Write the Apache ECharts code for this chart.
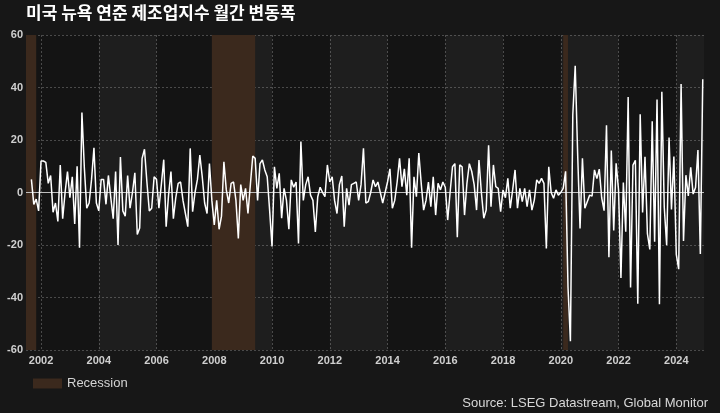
<!DOCTYPE html>
<html><head><meta charset="utf-8">
<script src="https://cdn.jsdelivr.net/npm/echarts@6/dist/echarts.min.js"></script>
<style>html,body{margin:0;padding:0;background:#171717;}#c{width:720px;height:413px;}</style>
</head><body><div id="c"></div>
<script>
// Monthly change of the Empire State (NY Fed) manufacturing index, first value = Aug 2001
const firstYear = 2001, firstMonth = 8;
const chg2001_2005 = [5,-4.5,-2.5,-7,12,12,11.5,3.5,6.5,-7.5,-4,-11,10.5,-10,0,8,-2,6,-12,10,-21,30.5,9.5,-6,-4,5,17,-4,-7,5,5,-4.5,6.5,-2,-10,8,-20,13.5,-7,-9,6.5,-6,0,7.5,-16,-13.5,13,16.5,4,-7,-6,6,5];
const chg2006_2010 = [-6,3,12.5,-13,-1,8,-10,-2,3.5,4,-3,-8,-13,16.8,-7.3,0,5,14.3,6,-4,-8,11,-3,-12.4,-3,-14,-9,11.7,1,-4,3.5,4,-3,-17.5,3,-3,1.6,-8,3,13.9,13,-3,11,12.4,8.6,6,-6.7,-20.6,9.8,1.6,7.3,-9.8,1.6,-3,-14,4.8,2,4,-19.4,19.4];
const chg2011_2015 = [-3,3,6,-1,-3,-15,-1.6,2,0,-1.6,10.5,4,6,-3,-8,3,6.3,-13,1.6,-4.8,3,3.5,4,-3,3,16.8,-4,-3.5,0,4.8,2.2,4,0,-4,0,4,9,-6,-3,4,13,2.2,9,-1,13,-21,6,-1.6,15,3.5,-6.7,-3,4,-5.4,6,-8.6,3.5,1,4,2];
const chg2016_2020 = [-10.5,0,9.8,11,-17,10.5,9.8,-8.6,3.5,11,8,3,-6.7,12.4,0,-9.8,-6.7,18,-5.4,10.5,2.2,1.6,-7.3,1,-2,5.4,-6,1,8.6,-6,1.6,-3.5,1.6,-5.4,1,-6.7,-2.9,4.8,3.5,5.4,3.5,-21.3,9.8,0,-2.2,1,-1,0,1.6,8.1,-36,-56.7,29.7,48.3,15,-13.7,13,-6,-3.5,-1];
const chg2021_2024 = [-1.4,8.6,5.3,8.9,-2,-6.9,25.6,-24.7,16,-14.5,11.1,1,-32.6,3.8,-14.9,36.4,-36.2,10.4,12.3,-42.4,29.8,-7.6,13.6,-15.7,-21.7,27.1,-18.8,35.4,-42.6,38.4,-5.5,-20.1,20.9,-6.5,13.7,-23.6,-29.2,41.3,-18.5,6.6,-1.3,9.6,-0.6,1.9,16.2,-23.4,43.1];
const yearTicks = [2002,2004,2006,2008,2010,2012,2014,2016,2018,2020,2022,2024];
const recessions = [['2001-03','2001-11'],['2007-12','2009-06'],['2020-02','2020-04']];
const shadedYears = [[2004,2006],[2008,2010],[2012,2014],[2016,2018],[2020,2022],[2024,2026]];

const X_MIN = 2001.48, X_MAX = 2024.96;
const values = [].concat(chg2001_2005, chg2006_2010, chg2011_2015, chg2016_2020, chg2021_2024);
// month-end position on a decimal-year axis
const points = values.map((v, i) => {
  const m = firstMonth - 1 + i;
  const y = firstYear + Math.floor(m / 12), mo = m % 12 + 1;
  return [y + mo / 12, v];
});
const ym = s => { const [y, m] = s.split('-').map(Number); return y + (m - 1) / 12; };
const last = points[points.length - 1];

const chart = echarts.init(document.getElementById('c'), null, {renderer: 'canvas'});
const axisFont = {color: '#cfcfcf', fontSize: 11, fontWeight: 'bold', fontFamily: 'Liberation Sans'};
chart.setOption({
  animation: false,
  backgroundColor: '#171717',
  title: {
    text: '미국 뉴욕 연준 제조업지수 월간 변동폭', left: 26, top: 4, padding: 0,
    textStyle: {color: '#ffffff', fontSize: 17, fontWeight: 'bold', fontFamily: 'Noto Sans CJK KR'}
  },
  legend: {
    left: 33, top: 377, padding: 0, itemWidth: 29, itemHeight: 10,
    data: [{name: 'Recession', icon: 'rect', itemStyle: {color: '#3b291d'}}],
    textStyle: {color: '#d4d4d4', fontSize: 13, fontFamily: 'Liberation Sans'}
  },
  graphic: [{
    type: 'text', right: 12, top: 397,
    style: {text: 'Source: LSEG Datastream, Global Monitor', fill: '#d8d8d8', font: '13px "Liberation Sans"'}
  }],
  grid: {left: 26, right: 16, top: 35, bottom: 63, show: true, backgroundColor: '#141414', borderWidth: 0},
  xAxis: {
    type: 'value', min: X_MIN, max: X_MAX,
    axisLine: {show: false}, axisTick: {show: false, customValues: yearTicks},
    axisLabel: Object.assign({customValues: yearTicks, margin: 5, formatter: v => String(Math.round(v))}, axisFont),
    splitLine: {show: true, lineStyle: {color: '#4a4a4a', type: [2, 2], width: 1}}
  },
  yAxis: {
    type: 'value', min: -60, max: 60, interval: 20,
    axisLine: {show: false}, axisTick: {show: false},
    axisLabel: Object.assign({margin: 3}, axisFont),
    splitLine: {show: true, lineStyle: {color: '#4a4a4a', type: [2, 2], width: 1}}
  },
  series: [
    {
      type: 'line', name: 'bands', data: [], silent: true, z: 1,
      markArea: {silent: true, itemStyle: {color: 'rgba(255,255,255,0.045)'},
        data: shadedYears.map(b => [{xAxis: b[0]}, {xAxis: Math.min(b[1], X_MAX)}])}
    },
    {
      type: 'line', name: 'Recession', data: [], silent: true, z: 2, color: '#3b291d',
      markArea: {silent: true, itemStyle: {color: '#3b291d'},
        data: recessions.map(r => [{xAxis: Math.max(ym(r[0]), X_MIN)}, {xAxis: ym(r[1])}])}
    },
    {
      type: 'line', name: 'change', data: points, z: 5, showSymbol: false, silent: true,
      lineStyle: {color: '#ffffff', width: 1.5}, itemStyle: {color: '#ffffff'},
      markLine: {silent: true, symbol: 'none', label: {show: false},
        lineStyle: {color: '#bdbdbd', width: 1, type: 'solid'}, data: [{yAxis: 0}]}
    },
    {
      type: 'scatter', name: 'lastLabel', data: [last], z: 6, silent: true, symbolSize: 1,
      itemStyle: {opacity: 0},
      label: {show: true, position: 'top', distance: 6, formatter: p => p.value[1].toFixed(1),
        color: '#ffffff', fontSize: 11, fontStyle: 'italic', fontFamily: 'Liberation Sans'}
    }
  ]
});
</script></body></html>
